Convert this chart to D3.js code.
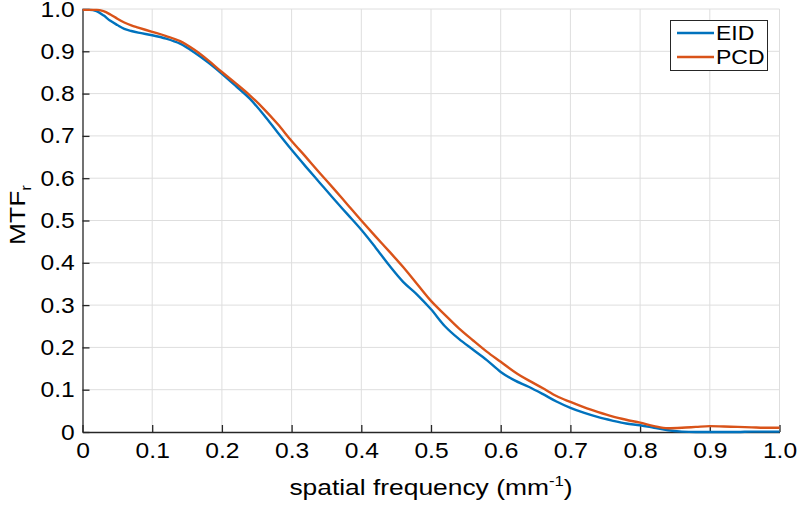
<!DOCTYPE html>
<html>
<head>
<meta charset="utf-8">
<script src="https://cdn.jsdelivr.net/npm/d3@7"></script>
<style>
  body { margin: 0; background: #fff; }
  text { font-family: "Liberation Sans", Arial, Helvetica, sans-serif; fill: #000; }
</style>
</head>
<body>
<svg id="chart" width="798" height="505"></svg>
<script>
// spatial frequency (mm^-1)
var freq = [0, 0.01, 0.02, 0.03, 0.04, 0.05, 0.06, 0.07, 0.08, 0.1, 0.12, 0.14, 0.16, 0.18, 0.2,
  0.22, 0.24, 0.26, 0.28, 0.3, 0.32, 0.34, 0.36, 0.38, 0.4, 0.42, 0.44, 0.46, 0.48, 0.5,
  0.52, 0.54, 0.56, 0.58, 0.6, 0.62, 0.64, 0.66, 0.68, 0.7, 0.72, 0.74, 0.76, 0.78, 0.8,
  0.82, 0.84, 0.86, 0.88, 0.9, 0.92, 0.94, 0.96, 0.98, 1.0];

var eid = [0.998, 0.998, 0.995, 0.985, 0.972, 0.962, 0.953, 0.948, 0.944, 0.938, 0.930, 0.918, 0.898, 0.874, 0.847,
  0.818, 0.788, 0.750, 0.708, 0.667, 0.628, 0.590, 0.552, 0.515, 0.478, 0.437, 0.394, 0.355, 0.325, 0.290,
  0.250, 0.220, 0.195, 0.170, 0.142, 0.122, 0.107, 0.090, 0.072, 0.057, 0.045, 0.035, 0.027, 0.020, 0.016,
  0.010, 0.004, 0.001, 0.0, 0.0, 0.0, 0.0, 0.001, 0.001, 0.001];

var pcd = [0.998, 0.998, 0.998, 0.995, 0.987, 0.977, 0.968, 0.961, 0.956, 0.946, 0.936, 0.924, 0.904, 0.879, 0.851,
  0.824, 0.796, 0.764, 0.728, 0.688, 0.651, 0.613, 0.576, 0.538, 0.500, 0.463, 0.427, 0.390, 0.350, 0.310,
  0.277, 0.245, 0.217, 0.190, 0.166, 0.142, 0.122, 0.104, 0.085, 0.071, 0.058, 0.047, 0.037, 0.029, 0.022,
  0.014, 0.009, 0.010, 0.012, 0.014, 0.013, 0.012, 0.011, 0.010, 0.010];

var ticks = [0, 0.1, 0.2, 0.3, 0.4, 0.5, 0.6, 0.7, 0.8, 0.9, 1.0];
var tickLabels = ['0', '0.1', '0.2', '0.3', '0.4', '0.5', '0.6', '0.7', '0.8', '0.9', '1.0'];
var seriesNames = ['EID', 'PCD'];
var colors = ['#0072BD', '#D95319'];

var mLeft = 82.5, mRight = 779.5, mTop = 9, mBottom = 432;

var svg = d3.select('#chart');

var x = d3.scaleLinear().domain([0, 1]).range([mLeft, mRight]);
var y = d3.scaleLinear().domain([0, 1]).range([mBottom, mTop]);

// grid
svg.append('g')
  .selectAll('line')
  .data(ticks.slice(1))
  .enter()
  .append('line')
  .attr('x1', function(d) { return x(d); })
  .attr('x2', function(d) { return x(d); })
  .attr('y1', mTop)
  .attr('y2', mBottom)
  .attr('stroke', '#dedede')
  .attr('stroke-width', 1);

svg.append('g')
  .selectAll('line')
  .data(ticks.slice(1))
  .enter()
  .append('line')
  .attr('x1', mLeft)
  .attr('x2', mRight)
  .attr('y1', function(d) { return y(d); })
  .attr('y2', function(d) { return y(d); })
  .attr('stroke', '#dedede')
  .attr('stroke-width', 1);

// axes (ticks pointing inward)
var xAxis = d3.axisBottom(x)
  .tickValues(ticks)
  .tickFormat(function(d, i) { return tickLabels[i]; })
  .tickSizeInner(-7)
  .tickSizeOuter(0)
  .tickPadding(10);

var yAxis = d3.axisLeft(y)
  .tickValues(ticks)
  .tickFormat(function(d, i) { return tickLabels[i]; })
  .tickSizeInner(-7)
  .tickSizeOuter(0)
  .tickPadding(7);

var gx = svg.append('g')
  .attr('transform', 'translate(0,' + mBottom + ')')
  .call(xAxis);

var gy = svg.append('g')
  .attr('transform', 'translate(' + mLeft + ',0)')
  .call(yAxis);

[gx, gy].forEach(function(g) {
  g.attr('font-size', null).attr('font-family', null);
  g.select('.domain').attr('stroke', '#262626').attr('stroke-width', 1.3);
  g.selectAll('.tick line').attr('stroke', '#262626').attr('stroke-width', 1.3);
  g.selectAll('.tick text')
    .attr('fill', '#000')
    .style('font-size', '22px')
    .attr('transform', 'scale(1.12,1)');
});
gx.selectAll('.tick text').attr('dy', '0.75em');

// lines
var line = d3.line()
  .x(function(d) { return x(d[0]); })
  .y(function(d) { return y(d[1]); })
  .curve(d3.curveMonotoneX);

[eid, pcd].forEach(function(vals, i) {
  svg.append('path')
    .datum(freq.map(function(f, j) { return [f, vals[j]]; }))
    .attr('d', line)
    .attr('fill', 'none')
    .attr('stroke', colors[i])
    .attr('stroke-width', 2.4)
    .attr('stroke-linejoin', 'round');
});

// legend
var legend = svg.append('g');
legend.append('rect')
  .attr('x', 670.5)
  .attr('y', 20.5)
  .attr('width', 97)
  .attr('height', 50)
  .attr('fill', '#fff')
  .attr('stroke', '#262626')
  .attr('stroke-width', 1);

seriesNames.forEach(function(name, i) {
  var ly = 33 + i * 24;
  legend.append('line')
    .attr('x1', 677)
    .attr('x2', 714)
    .attr('y1', ly)
    .attr('y2', ly)
    .attr('stroke', colors[i])
    .attr('stroke-width', 2.4);
  legend.append('text')
    .attr('x', 716 / 1.15)
    .attr('y', ly + 7)
    .attr('transform', 'scale(1.15,1)')
    .style('font-size', '20px')
    .text(name);
});

// axis labels
var xl = svg.append('text')
  .attr('x', (mLeft + mRight) / 2 / 1.2)
  .attr('y', 495)
  .attr('transform', 'scale(1.2,1)')
  .attr('text-anchor', 'middle')
  .style('font-size', '22px');
xl.append('tspan').text('spatial frequency (mm');
xl.append('tspan').attr('dy', -9).style('font-size', '14px').text('-1');
xl.append('tspan').attr('dy', 9).text(')');

var yl = svg.append('text')
  .attr('transform', 'translate(25,215) rotate(-90) scale(1.2,1)')
  .attr('text-anchor', 'middle')
  .style('font-size', '22px');
yl.append('tspan').text('MTF');
yl.append('tspan').attr('dy', 6).style('font-size', '14px').text('r');
</script>
</body>
</html>
